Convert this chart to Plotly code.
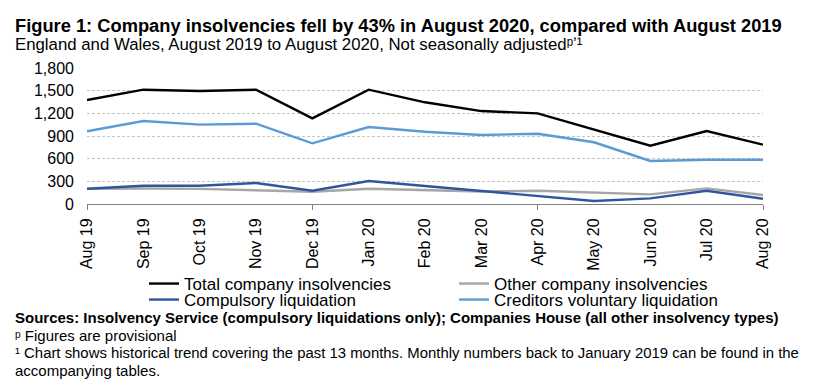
import plotly.graph_objects as go

months = ["Aug 19", "Sep 19", "Oct 19", "Nov 19", "Dec 19", "Jan 20", "Feb 20",
          "Mar 20", "Apr 20", "May 20", "Jun 20", "Jul 20", "Aug 20"]
total = [1376, 1513, 1495, 1513, 1134, 1513, 1346, 1230, 1200, 990, 772, 966, 785]
other = [200, 205, 200, 178, 163, 202, 185, 165, 176, 150, 128, 207, 119]
compulsory = [202, 242, 242, 278, 176, 304, 238, 172, 110, 40, 75, 176, 70]
creditors = [962, 1098, 1050, 1063, 803, 1019, 957, 913, 930, 817, 569, 586, 586]
yticks = [0, 300, 600, 900, 1200, 1500, 1800]

W, H = 826, 391
L, R, T, B = 87, 63, 68, 187
PW, PH = W - L - R, H - T - B

def px(x):
    return (x - L) / PW

def py(y):
    return (H - B - y) / PH

FONT = "Liberation Sans, Arial, sans-serif"

xs = list(range(len(months)))
fig = go.Figure()
series = [
    ("Total company insolvencies", total, "#000000", "legend"),
    ("Other company insolvencies", other, "#a6a6a6", "legend"),
    ("Compulsory liquidation", compulsory, "#2f55a0", "legend2"),
    ("Creditors voluntary liquidation", creditors, "#5b9bd5", "legend2"),
]
for name, vals, col, lg in series:
    fig.add_trace(go.Scatter(x=xs, y=vals, name=name, mode="lines", legend=lg,
                             line=dict(color=col, width=2.4)))

legend_common = dict(orientation="h", xanchor="left", yanchor="middle",
                     font=dict(family=FONT, size=17), entrywidth=265,
                     entrywidthmode="pixels", bgcolor="rgba(0,0,0,0)", itemwidth=30)

fig.update_layout(
    width=W, height=H,
    margin=dict(l=L, r=R, t=T, b=B),
    paper_bgcolor="white", plot_bgcolor="white",
    font=dict(family=FONT, color="#000000", size=16),
    showlegend=True,
    legend=dict(x=px(144), y=py(284), **legend_common),
    legend2=dict(x=px(144), y=py(300), **legend_common),
    xaxis=dict(range=[0, 12], tickmode="array", tickvals=xs, ticktext=months,
               tickangle=-90, ticks="", showgrid=False, zeroline=False,
               showline=True, linecolor="#808080", linewidth=1,
               tickfont=dict(family=FONT, size=16), ticklabelstandoff=7,
               automargin=False,
               minor=dict(ticks="outside", ticklen=5, tickcolor="#808080",
                          tick0=0, dtick=4, showgrid=False)),
    yaxis=dict(range=[0, 1800], tickmode="array", tickvals=yticks,
               ticktext=[f"{v:,}" for v in yticks], showgrid=True,
               gridcolor="#c4c4c4", griddash="3px,2px", gridwidth=1,
               zeroline=False, showline=False, ticks="", automargin=False,
               tickfont=dict(family=FONT, size=16), ticklabelstandoff=12),
)

annos = [
    dict(text="<b>Figure 1: Company insolvencies fell by 43% in August 2020, compared with August 2019</b>",
         x=px(13), y=py(25), size=18.3),
    dict(text="England and Wales, August 2019 to August 2020, Not seasonally adjustedᵖʼ¹",
         x=px(13), y=py(45), size=16.8),
    dict(text="<b>Sources: Insolvency Service (compulsory liquidations only); Companies House (all other insolvency types)</b>",
         x=px(13), y=py(317), size=15),
    dict(text="ᵖ Figures are provisional",
         x=px(13), y=py(335), size=15),
    dict(text="¹ Chart shows historical trend covering the past 13 months. Monthly numbers back to January 2019 can be found in the",
         x=px(13), y=py(353), size=14.9),
    dict(text="accompanying tables.",
         x=px(13), y=py(370), size=15),
]
for a in annos:
    fig.add_annotation(text=a["text"], x=a["x"], y=a["y"], xref="paper", yref="paper",
                       xanchor="left", yanchor="middle", showarrow=False,
                       font=dict(family=FONT, size=a["size"], color="#000000"))

fig.write_html("out.html", config={"displayModeBar": False},
               post_script="document.body.style.margin='0px';document.body.style.overflow='hidden';")
